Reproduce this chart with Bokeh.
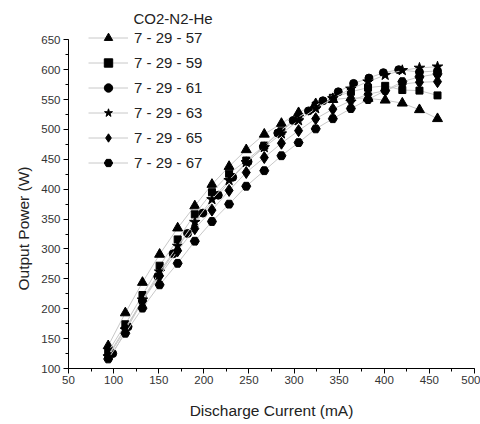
import math
from bokeh.plotting import figure
from bokeh.models import Legend, LegendItem, Label, SingleIntervalTicker, Range1d, Title
from bokeh.embed import file_html
from bokeh.resources import INLINE

# ---- data ----
x_main = [94, 113, 132, 151, 171, 190, 209, 228, 247, 267, 286, 305, 324, 343, 363, 382, 401, 420, 439, 459]
x_61 = [99, 116, 132, 149, 166, 182, 199, 216, 232, 249, 266, 282, 299, 316, 332, 349, 366, 383, 399, 416, 439, 459]

p57 = [138, 193, 244, 291, 335, 372, 408, 438, 466, 492, 510, 528, 543, 550, 553, 552, 549, 544, 533, 518]
p59 = [128, 174, 223, 272, 316, 358, 395, 426, 448, 473, 497, 520, 540, 553, 563, 570, 573, 566, 565, 557]
p61 = [125, 170, 213, 254, 292, 326, 360, 390, 420, 446, 471, 494, 515, 531, 548, 563, 577, 586, 595, 600, 596, 598]
p63 = [120, 165, 215, 262, 305, 345, 383, 415, 445, 470, 493, 515, 535, 552, 568, 580, 591, 599, 603, 605]
p65 = [122, 168, 213, 255, 297, 334, 365, 398, 428, 453, 477, 498, 518, 534, 548, 559, 565, 576, 579, 580]
p67 = [116, 159, 201, 240, 276, 313, 346, 375, 405, 431, 456, 478, 501, 518, 535, 550, 565, 580, 588, 593]

labels = ["7 - 29 - 57", "7 - 29 - 59", "7 - 29 - 61", "7 - 29 - 63", "7 - 29 - 65", "7 - 29 - 67"]
legend_title = "CO2-N2-He"
x_title = "Discharge Current (mA)"
y_title = "Output Power (W)"

# (x, y, marker, size)
series = [
    (x_main, p57, "triangle", 10),
    (x_main, p59, "square", 7),
    (x_61, p61, "circle", 8),
    (x_main, p63, "star", 11),
    (x_main, p65, "diamond", 12),
    (x_main, p67, "hex", 9),
]

FONT = "Liberation Sans"

# frame runs to the top of the page so the legend (which sits above 650) is not clipped
p = figure(width=480, height=424, output_backend="svg", toolbar_location=None,
           x_range=Range1d(50, 500), y_range=Range1d(100, 715.8),
           min_border_left=68, min_border_right=6, min_border_top=0, min_border_bottom=56)
p.outline_line_color = None
p.xgrid.visible = False
p.ygrid.visible = False
p.background_fill_color = "white"
p.border_fill_color = "white"

for ax, interval in ((p.xaxis[0], 50), (p.yaxis[0], 50)):
    ax.ticker = SingleIntervalTicker(interval=interval, num_minor_ticks=2)
    ax.axis_line_color = "black"
    ax.axis_line_width = 1
    ax.major_tick_line_color = "black"
    ax.minor_tick_line_color = "black"
    ax.major_tick_out = 5
    ax.major_tick_in = 0
    ax.minor_tick_out = 3
    ax.minor_tick_in = 0
    ax.major_label_text_font = FONT
    ax.major_label_text_font_size = "11.5px"
    ax.major_label_text_color = "#333333"

p.yaxis.bounds = (100, 650)
p.xaxis.major_label_standoff = 2
p.yaxis.major_label_standoff = 3
p.xaxis.axis_label = x_title
p.xaxis.axis_label_text_font = FONT
p.xaxis.axis_label_text_font_size = "15.5px"
p.xaxis.axis_label_text_font_style = "normal"
p.xaxis.axis_label_text_color = "#222222"
p.xaxis.axis_label_standoff = 15

items = []
for (xs, ys, marker, size), lab in zip(series, labels):
    ln = p.line(xs, ys, line_color="#c8c8c8", line_width=1)
    sc = p.scatter(xs, ys, marker=marker, size=size,
                   fill_color="black", line_color="black")
    items.append(LegendItem(label=lab, renderers=[ln, sc]))

legend = Legend(items=items, location=(20, 195), orientation="vertical",
                glyph_width=40, glyph_height=21, spacing=4, padding=0, margin=0,
                label_standoff=6, label_text_font=FONT, label_text_font_size="15px",
                label_text_color="#222222", border_line_color=None,
                background_fill_alpha=0)
p.add_layout(legend, "center")

title_lab = Label(x=122, y=685, text=legend_title,
                  text_font=FONT, text_font_size="15px", text_color="#222222",
                  text_baseline="middle", text_align="left")
p.add_layout(title_lab)

ytitle = Title(text=y_title, align="left", offset=78, standoff=14,
               text_font=FONT, text_font_size="15.5px", text_font_style="normal",
               text_color="#222222")
p.add_layout(ytitle, "left")

open("out.html", "w").write(file_html(p, INLINE))
